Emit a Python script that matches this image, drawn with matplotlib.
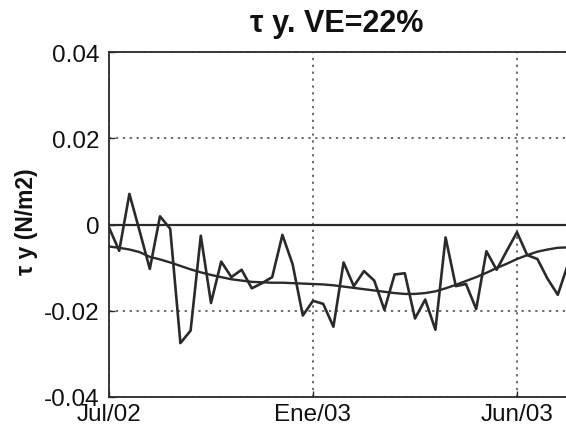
import matplotlib
matplotlib.use("Agg")
import matplotlib.pyplot as plt

# data (index = sample number)
tau_y = [-0.0007, -0.0061, 0.0071, -0.0015, -0.0103, 0.0019, -0.0010, -0.0275,
         -0.0246, -0.0026, -0.0182, -0.0086, -0.0122, -0.0105, -0.0148, -0.0136,
         -0.0122, -0.0024, -0.0092, -0.0211, -0.0177, -0.0184, -0.0237, -0.0088,
         -0.0143, -0.0108, -0.0130, -0.0198, -0.0116, -0.0113, -0.0218, -0.0174,
         -0.0244, -0.0030, -0.0143, -0.0138, -0.0196, -0.0062, -0.0105, -0.0061,
         -0.0018, -0.0071, -0.0080, -0.0126, -0.0163, -0.0092]
tau_y_smooth = [-0.0051, -0.0054, -0.0058, -0.0064, -0.0075, -0.0081, -0.0088, -0.0096,
                -0.0104, -0.0111, -0.0117, -0.0122, -0.0127, -0.0130, -0.0133, -0.0134,
                -0.0135, -0.0135, -0.0136, -0.0137, -0.0138, -0.0139, -0.0141, -0.0144,
                -0.0147, -0.0150, -0.0153, -0.0156, -0.0159, -0.0161, -0.0161, -0.0159,
                -0.0155, -0.0148, -0.0140, -0.0131, -0.0122, -0.0112, -0.0101, -0.0091,
                -0.0080, -0.0071, -0.0063, -0.0058, -0.0054, -0.0053]
xtick_pos = [0, 20, 40]
xtick_labels = ["Jul/02", "Ene/03", "Jun/03"]
ytick_pos = [-0.04, -0.02, 0, 0.02, 0.04]
ytick_labels = ["-0.04", "-0.02", "0", "0.02", "0.04"]

plt.rcParams['font.family'] = ['Liberation Sans', 'DejaVu Sans']

W, H = 566, 431
fig = plt.figure(figsize=(W / 100, H / 100), dpi=100)
left_px, top_px, bot_px = 109, 53, 398
px_per_idx = 10.2
xmax = 46
ax = fig.add_axes([left_px / W, (H - bot_px) / H,
                   xmax * px_per_idx / W, (bot_px - top_px) / H])

x = list(range(len(tau_y)))
col = '#2a2a2a'
ax.axhline(0, color=col, lw=1.6, zorder=2)
ax.plot(x, tau_y, color=col, lw=1.9, zorder=3)
ax.plot(x, tau_y_smooth, color=col, lw=1.7, zorder=3)

ax.set_xlim(0, xmax)
ax.set_ylim(-0.04, 0.04)
ax.set_xticks(xtick_pos)
ax.set_xticklabels(xtick_labels)
ax.set_yticks(ytick_pos)
ax.set_yticklabels(ytick_labels)
ax.grid(True, linestyle=(0, (1.5, 3)), color='#444444', lw=1.1)
ax.tick_params(direction='in', length=4, width=1, colors=col, labelsize=17.5,
               labelcolor='#111111')
ax.tick_params(axis='y', pad=7)
ax.tick_params(axis='x', pad=4)
for s in ax.spines.values():
    s.set_linewidth(1.3)
    s.set_color(col)

fig.text(337 / W, 1 - 24 / H, "τ y. VE=22%", ha='center', va='center',
         fontsize=22, fontweight='bold', color='#111111')
fig.text(26 / W, 1 - 222 / H, "τ y (N/m2)", ha='center', va='center',
         rotation=90, fontsize=16.5, fontweight='bold', color='#111111')

fig.savefig("out.png", dpi=100)
